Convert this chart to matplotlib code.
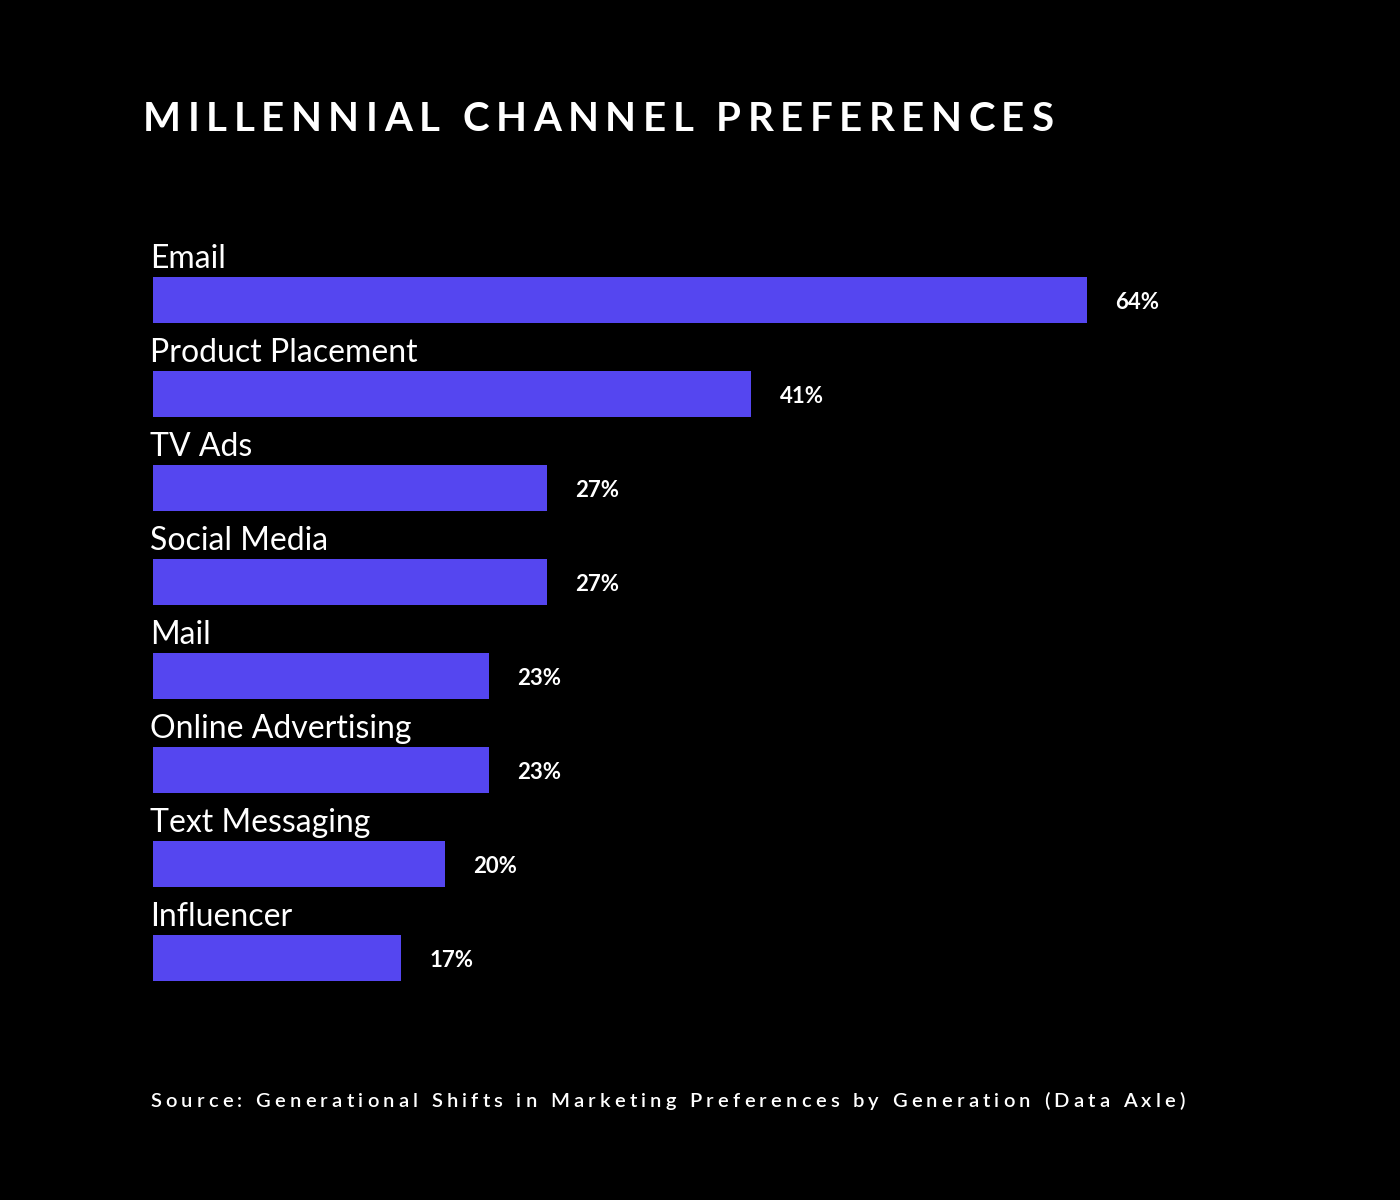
import matplotlib.pyplot as plt

channels = ['Email', 'Product Placement', 'TV Ads', 'Social Media', 'Mail',
            'Online Advertising', 'Text Messaging', 'Influencer']
shares = [64, 41, 27, 27, 23, 23, 20, 17]

title = 'MILLENNIAL CHANNEL PREFERENCES'
source = 'Source: Generational Shifts in Marketing Preferences by Generation (Data Axle)'

BAR = '#5546F0'
FONT = 'Lato'
W, H = 1400, 1200


def tracked_text(fig, x_px, y_px, s, size, target_w, weight='normal'):
    # matplotlib has no letter-spacing, so place each character along the line
    r = fig.canvas.get_renderer()
    probe = fig.text(0, 0, s, fontsize=size, family=FONT, weight=weight)
    prop = probe.get_fontproperties()
    probe.remove()
    width = lambda t: r.get_text_width_height_descent(t, prop, ismath=False)[0] if t else 0
    natural = width(s)
    track = (target_w - natural) / (len(s) - 1)
    for i, ch in enumerate(s):
        if ch == ' ':
            continue
        x = x_px + width(s[:i]) + i * track
        fig.text(x / W, 1 - y_px / H, ch, fontsize=size, family=FONT, weight=weight,
                 color='white', va='baseline', ha='left')


fig = plt.figure(figsize=(14, 12), dpi=100, facecolor='black')

# axes spans x 153..1253 px, y 200..1050 px
ax = fig.add_axes([153 / W, 1 - 1050 / H, 1100 / W, 850 / H])
ax.set_facecolor('black')
px_per_unit = (1087 - 153) / 64
ax.set_xlim(0, 1100 / px_per_unit)
ax.set_ylim((1050 - 300) / 94, -(300 - 200) / 94)

ypos = list(range(len(channels)))
ax.barh(ypos, shares, height=46 / 94, color=BAR, align='center')

for y, name, v in zip(ypos, channels, shares):
    ax.text(-0.2, y - 0.34, name, fontsize=23, family=FONT, color='white',
            ha='left', va='baseline')
    ax.text(v + 1.95, y + 0.03, '{}%'.format(v), fontsize=16, family=FONT, weight='bold',
            color='white', ha='left', va='center')

for s in ax.spines.values():
    s.set_visible(False)
ax.set_xticks([])
ax.set_yticks([])

tracked_text(fig, 143, 131, title, 29, 910, weight='bold')
tracked_text(fig, 150, 1107, source, 14.5, 1035, weight='semibold')

fig.savefig('out.png', dpi=100, facecolor='black')
